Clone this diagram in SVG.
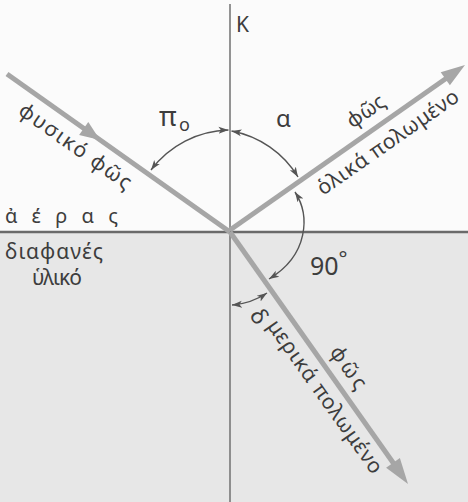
<svg xmlns="http://www.w3.org/2000/svg" width="468" height="502" viewBox="0 0 468 502">
  <style>
    .lbl { font-family: "Noto Sans", "DejaVu Sans", sans-serif; fill: #3d3d3d; font-size: 21px; }
    .ray { stroke: #a6a6a6; stroke-width: 5; fill: none; stroke-linecap: butt; }
    .rayhead { fill: #a6a6a6; }
    .arc { stroke: #555; stroke-width: 1.4; fill: none; }
  </style>
  <defs>
    <marker id="ah" viewBox="0 0 10 10" refX="10" refY="5" markerWidth="10" markerHeight="10" markerUnits="userSpaceOnUse" orient="auto-start-reverse">
      <path d="M0,1.5 L10,5 L0,8.5 L2.5,5 Z" fill="#555"/>
    </marker>
  </defs>

  <!-- media -->
  <g id="air"><rect x="0" y="0" width="468" height="232" fill="#fbfbfb"/></g>
  <g id="material"><rect x="0" y="232" width="468" height="270" fill="#e7e7e7"/></g>

  <!-- connectors: normal, interface, rays, angle arcs -->
  <g id="connectors">
    <line x1="230" y1="4" x2="230" y2="502" stroke="#707070" stroke-width="1.5"/>
    <line x1="0" y1="232" x2="468" y2="232" stroke="#6a6a6a" stroke-width="2.5"/>

    <line class="ray" x1="7" y1="74" x2="230" y2="232"/>
    <polygon class="rayhead" points="100,140 79.1,134.9 88.3,121.9"/>

    <line class="ray" x1="230" y1="230" x2="446" y2="78.5"/>
    <polygon class="rayhead" points="465,65 449.9,85.3 440.7,72.2"/>

    <line class="ray" x1="230" y1="232" x2="394" y2="464"/>
    <polygon class="rayhead" points="408,484 386.1,467.7 399.9,457.9"/>

    <path class="arc" d="M151,170 A100,100 0 0 1 228.5,130" marker-start="url(#ah)" marker-end="url(#ah)"/>
    <path class="arc" d="M231.5,131 A99,99 0 0 1 298,177" marker-start="url(#ah)" marker-end="url(#ah)"/>
    <path class="arc" d="M295,192 C310,215 309,255 269,279" marker-start="url(#ah)" marker-end="url(#ah)"/>
    <path class="arc" d="M232,305 A72,72 0 0 0 267,293" marker-start="url(#ah)" marker-end="url(#ah)"/>
  </g>

  <!-- labels -->
  <g id="label-K"><text class="lbl" x="236" y="32" style="font-size:21px">K</text></g>
  <g id="label-pi0">
    <text class="lbl" x="159" y="126" style="font-size:27px">π</text>
    <text class="lbl" x="179" y="131" style="font-size:18px">ο</text>
  </g>
  <g id="label-alpha"><text class="lbl" x="276" y="127" style="font-size:24px">α</text></g>
  <g id="label-90"><text class="lbl" x="310" y="275" style="font-size:25px">90<tspan dy="-9" style="font-size:21px">°</tspan></text></g>

  <g id="label-air"><text class="lbl" x="5" y="223" style="font-size:20px" textLength="113" lengthAdjust="spacing">ἀέρας</text></g>
  <g id="label-material">
    <text class="lbl" x="5" y="259" textLength="98" lengthAdjust="spacing">διαφανές</text>
    <text class="lbl" x="32" y="285" textLength="50" lengthAdjust="spacing">ὑλικό</text>
  </g>

  <g id="incident">
    <text class="lbl" transform="translate(17,113.5) rotate(35.3)" textLength="133" lengthAdjust="spacing">φυσικό φῶς</text>
  </g>
  <g id="reflected">
    <text class="lbl" transform="translate(352.5,129) rotate(-34.9)" textLength="42" lengthAdjust="spacing">φῶς</text>
    <text class="lbl" transform="translate(323,196) rotate(-34.9)" textLength="168" lengthAdjust="spacing">ὁλικά πολωμένο</text>
  </g>
  <g id="refracted">
    <text class="lbl" transform="translate(248.8,315.5) rotate(54.65)" style="font-size:23px">δ</text>
    <text class="lbl" transform="translate(266.5,326) rotate(54.65)" textLength="183" lengthAdjust="spacing">μερικά πολωμένο</text>
    <text class="lbl" transform="translate(329,352) rotate(54.65)" textLength="48" lengthAdjust="spacing">φῶς</text>
  </g>
</svg>
